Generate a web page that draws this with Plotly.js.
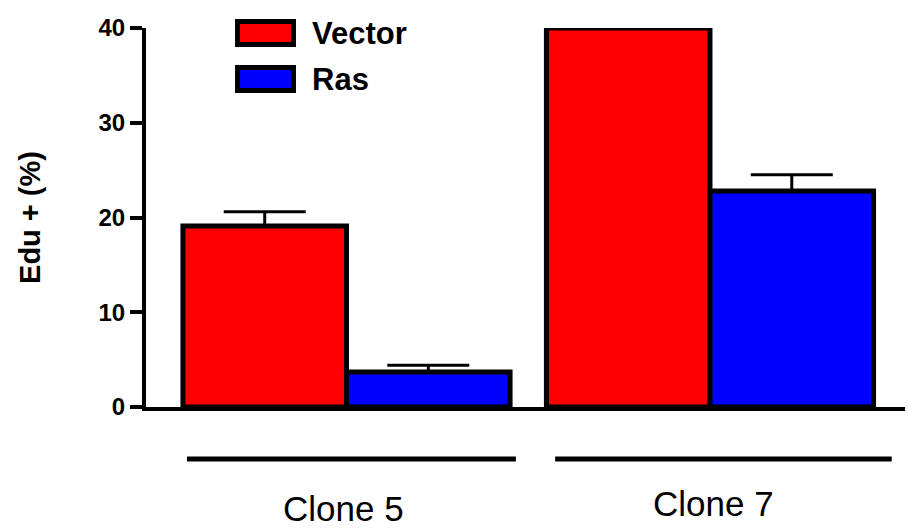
<!DOCTYPE html>
<html>
<head>
<meta charset="utf-8">
<script src="https://cdn.plot.ly/plotly-3.0.1.min.js"></script>
<style>
  html, body { margin: 0; padding: 0; background: #fff; }
  #chart { width: 908px; height: 531px; }
</style>
</head>
<body>
<div id="chart"></div>
<script>
// ---- data ----
const categories = ['Clone 5', 'Clone 7'];
const seriesNames = ['Vector', 'Ras'];
const vectorValues = [19.1, 40.0];
const vectorErrors = [1.5, 0.1];
const rasValues = [3.7, 22.8];
const rasErrors = [0.7, 1.7];
const yTickValues = [0, 10, 20, 30, 40];
const yTickLabels = ['0', '10', '20', '30', '40'];
const yTitle = 'Edu + (%)';

// ---- styles ----
const colors = ['#FF0000', '#0000FF'];
const FONT = 'Arial, "Liberation Sans", sans-serif';

function barTrace(name, vals, errs, color) {
  return {
    type: 'bar',
    name: name,
    x: categories,
    y: vals,
    marker: { color: color, line: { color: '#000', width: 5 } },
    error_y: { type: 'data', symmetric: false, array: errs, arrayminus: errs.map(() => 0),
               visible: true, color: '#000', thickness: 3, width: 41 },
    cliponaxis: false,
    showlegend: false,
    hoverinfo: 'skip'
  };
}

const traces = [
  barTrace(seriesNames[0], vectorValues, vectorErrors, colors[0]),
  barTrace(seriesNames[1], rasValues, rasErrors, colors[1])
];

// custom legend (large swatches), group underlines, category labels
const legendSwatchY = [[0.9565, 1.0172], [0.8351, 0.8958]];
const legendTextY = [0.9868, 0.8654];
const shapes = [];
const annotations = [];
seriesNames.forEach((n, i) => {
  shapes.push({
    type: 'rect', xref: 'paper', yref: 'paper',
    x0: 0.1206, x1: 0.1943, y0: legendSwatchY[i][0], y1: legendSwatchY[i][1],
    fillcolor: colors[i], line: { color: '#000', width: 5 }
  });
  annotations.push({
    text: n, xref: 'paper', yref: 'paper', x: 0.2160, y: legendTextY[i],
    xanchor: 'left', yanchor: 'middle', showarrow: false,
    font: { family: FONT, size: 31, weight: 'bold', color: '#000' }
  });
});

const groupLineSpan = [[-0.439, 0.466], [-0.426, 0.50]];
const labelShift = [-3, 4];
const labelY = [-0.2665, -0.2533];
categories.forEach((c, i) => {
  shapes.push({
    type: 'line', xref: 'x', yref: 'paper',
    x0: i + groupLineSpan[i][0], x1: i + groupLineSpan[i][1], y0: -0.1372, y1: -0.1372,
    line: { color: '#000', width: 5 }
  });
  annotations.push({
    text: c, xref: 'x', yref: 'paper', x: c, y: labelY[i], xshift: labelShift[i],
    xanchor: 'center', yanchor: 'middle', showarrow: false,
    font: { family: FONT, size: 35, color: '#000' }
  });
});

const layout = {
  width: 908, height: 531,
  margin: { l: 146, r: 3, t: 28, b: 124 },
  paper_bgcolor: '#fff', plot_bgcolor: '#fff',
  barmode: 'group', bargap: 0.1, bargroupgap: 0,
  showlegend: false,
  font: { family: FONT, color: '#000' },
  xaxis: {
    type: 'category', categoryorder: 'array', categoryarray: categories,
    range: [-0.5516, 1.5365],
    showticklabels: false, ticks: '', showgrid: false, zeroline: false,
    showline: true, linecolor: '#000', linewidth: 4, fixedrange: true
  },
  yaxis: {
    range: [0, 40], tickvals: yTickValues, ticktext: yTickLabels,
    ticks: 'outside', ticklen: 12, tickwidth: 4, tickcolor: '#000',
    showline: true, linecolor: '#000', linewidth: 4,
    showgrid: false, zeroline: false, fixedrange: true,
    tickfont: { family: FONT, size: 24, weight: 'bold', color: '#000' },
    title: { text: yTitle, standoff: 50, font: { family: FONT, size: 29, weight: 'bold', color: '#000' } }
  },
  shapes: shapes,
  annotations: annotations
};

Plotly.newPlot('chart', traces, layout, { staticPlot: true, displayModeBar: false });
</script>
</body>
</html>
